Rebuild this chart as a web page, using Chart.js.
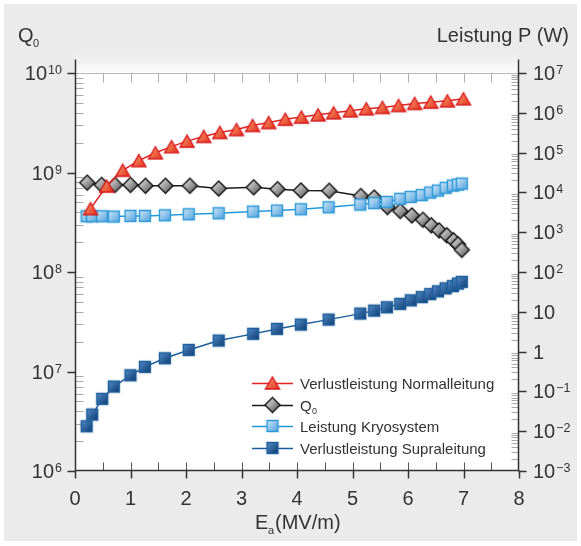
<!DOCTYPE html>
<html>
<head>
<meta charset="utf-8">
<script src="https://cdn.jsdelivr.net/npm/chart.js@4.4.1/dist/chart.umd.min.js"></script>
<style>
  html, body { margin: 0; padding: 0; background: #fff; }
  #wrap { width: 581px; height: 546px; }
</style>
</head>
<body>
<div id="wrap"><canvas id="chart" width="581" height="546"></canvas></div>
<script>
// E_a (MV/m) for the normal conducting curve
const eNormal = [0.28, 0.57, 0.86, 1.15, 1.45, 1.74, 2.02, 2.32, 2.61, 2.91, 3.20, 3.49,
                 3.79, 4.08, 4.38, 4.66, 4.96, 5.25, 5.54, 5.83, 6.12, 6.41, 6.71, 7.00];
// Verlustleistung Normalleitung (W)
const pNormal = [3.9e3, 1.44e4, 3.6e4, 6.3e4, 9.9e4, 1.41e5, 1.94e5, 2.55e5, 3.2e5, 3.8e5, 4.8e5, 5.7e5,
                 6.9e5, 7.8e5, 8.9e5, 1.0e6, 1.12e6, 1.26e6, 1.36e6, 1.53e6, 1.72e6, 1.85e6, 2.0e6, 2.25e6];

// E_a (MV/m) for the superconducting measurements
const eSupra = [0.21, 0.31, 0.49, 0.70, 1.00, 1.26, 1.62, 2.05, 2.59, 3.21, 3.64, 4.07, 4.57,
                5.14, 5.39, 5.62, 5.86, 6.05, 6.25, 6.40, 6.54, 6.68, 6.81, 6.90, 6.97];
// Leistung Kryosystem (W)
const pKryo = [2510, 2510, 2510, 2470, 2570, 2570, 2660, 2820, 2990, 3290, 3490, 3760, 4230,
               4940, 5380, 5770, 6900, 7710, 8550, 9890, 11100, 13000, 14800, 15700, 16600];
// Verlustleistung Supraleitung (W)
const pSupra = [0.0133, 0.0261, 0.0648, 0.132, 0.254, 0.413, 0.679, 1.10, 1.89, 2.79, 3.72, 4.77, 6.36,
                9.0, 10.7, 13.0, 15.8, 19.4, 23.4, 27.9, 32.7, 38.9, 44.2, 51.1, 56.4];

// Q0 curve
const eQ0 = [0.22, 0.48, 0.72, 1.00, 1.27, 1.63, 2.07, 2.59, 3.22, 3.65, 4.07, 4.58,
             5.15, 5.39, 5.63, 5.86, 6.07, 6.27, 6.42, 6.56, 6.70, 6.82, 6.90, 6.97];
const q0 = [7.9e8, 7.5e8, 7.5e8, 7.5e8, 7.35e8, 7.35e8, 7.35e8, 6.9e8, 7.1e8, 6.8e8, 6.6e8, 6.55e8,
            5.8e8, 5.6e8, 4.5e8, 4.1e8, 3.7e8, 3.35e8, 2.95e8, 2.62e8, 2.34e8, 2.08e8, 1.9e8, 1.67e8];

// tick labels
const q0TickExp = [6, 7, 8, 9, 10];
const pTickExp = [-3, -2, -1, 0, 1, 2, 3, 4, 5, 6, 7];
const xTicks = [0, 1, 2, 3, 4, 5, 6, 7, 8];

const FONT = '"Liberation Sans", Arial, sans-serif';
const TXT = '#333';

function makeMarker(shape, w, h, light, dark, stroke) {
  const c = document.createElement('canvas');
  c.width = w + 4; c.height = h + 4;
  const g = c.getContext('2d');
  const grad = g.createLinearGradient(2, 2, w + 2, h + 2);
  grad.addColorStop(0, light);
  grad.addColorStop(1, dark);
  g.beginPath();
  if (shape === 'triangle') {
    g.moveTo(c.width / 2, 2); g.lineTo(w + 2, h + 2); g.lineTo(2, h + 2);
  } else if (shape === 'diamond') {
    g.moveTo(c.width / 2, 2); g.lineTo(w + 2, c.height / 2); g.lineTo(c.width / 2, h + 2); g.lineTo(2, c.height / 2);
  } else {
    g.rect(2.5, 2.5, w - 1, h - 1);
  }
  g.closePath();
  g.fillStyle = grad; g.fill();
  g.lineWidth = 1.4; g.strokeStyle = stroke; g.stroke();
  return c;
}

const mkTri = makeMarker('triangle', 14, 12, '#f9a070', '#e4301c', '#d8181c');
const mkDia = makeMarker('diamond', 15, 15, '#f4f4f4', '#4a4a4a', '#111');
const mkLight = makeMarker('square', 12, 12, '#d4eafa', '#4a9ddc', '#2c9ad8');
const mkDark = makeMarker('square', 12, 12, '#5590cc', '#0a376e', '#1f5f9c');

function pts(xs, ys) { return xs.map((x, i) => ({ x: x, y: ys[i] })); }

function hline(c, x1, y1, x2, y2, col, w) {
  c.beginPath(); c.moveTo(x1, y1); c.lineTo(x2, y2);
  c.strokeStyle = col; c.lineWidth = w || 1; c.stroke();
}

// "10^exp" label; 10^1 is written "10" and 10^0 is written "1"
function powLabel(c, exp, x, y, align) {
  const base = exp === 0 ? '1' : '10';
  const sup = (exp === 0 || exp === 1) ? '' : (exp < 0 ? '\u2212' + (-exp) : String(exp));
  c.font = '20px ' + FONT; const wb = c.measureText(base).width;
  c.font = '12.5px ' + FONT; const ws = sup ? c.measureText(sup).width + 1 : 0;
  const x0 = align === 'right' ? x - wb - ws : x;
  c.textAlign = 'left'; c.textBaseline = 'alphabetic';
  c.font = '20px ' + FONT; c.fillText(base, x0, y + 7);
  if (sup) { c.font = '12.5px ' + FONT; c.fillText(sup, x0 + wb + 1, y + 1); }
}

const datasets = [
  { label: 'Verlustleistung Normalleitung', data: pts(eNormal, pNormal), yAxisID: 'y1',
    borderColor: '#e2231f', pointStyle: mkTri, order: 0 },
  { label: 'Q0', data: pts(eQ0, q0), yAxisID: 'y',
    borderColor: '#1a1a1a', pointStyle: mkDia, order: 2 },
  { label: 'Leistung Kryosystem', data: pts(eSupra, pKryo), yAxisID: 'y1',
    borderColor: '#239ad8', pointStyle: mkLight, order: 1 },
  { label: 'Verlustleistung Supraleitung', data: pts(eSupra, pSupra), yAxisID: 'y1',
    borderColor: '#1b5d9b', pointStyle: mkDark, order: 3 }
];
datasets.forEach(d => {
  d.borderWidth = 1.5; d.pointRadius = 6; d.fill = false; d.tension = 0;
});

const frame = {
  id: 'frame',
  beforeDraw(chart) {
    const c = chart.ctx, a = chart.chartArea;
    c.save();
    c.fillStyle = '#fff'; c.fillRect(0, 0, chart.width, chart.height);
    c.fillStyle = '#ebebeb'; c.fillRect(4, 4, 573, 537);
    const g = c.createLinearGradient(0, a.top - 20, 0, a.top);
    g.addColorStop(0, '#ebebeb'); g.addColorStop(1, '#fdfdfd');
    c.fillStyle = g; c.fillRect(a.left, a.top - 20, a.right - a.left, 20);
    c.fillStyle = '#fff'; c.fillRect(a.left, a.top, a.right - a.left, a.bottom - a.top);
    c.restore();
  },
  beforeDatasetsDraw(chart) {
    const c = chart.ctx, a = chart.chartArea;
    const sx = chart.scales.x, sy = chart.scales.y, sp = chart.scales.y1;
    const L = Math.round(a.left) + 0.5, R = Math.round(a.right) - 0.5;
    const T = Math.round(a.top) + 0.5, B = Math.round(a.bottom) - 0.5;
    c.save();
    hline(c, L, T, R, T, '#b8b8b8');
    // left axis (Q0)
    for (let e = 6; e < 10; e++) {
      for (let m = 2; m <= 9; m++) {
        const y = Math.round(sy.getPixelForValue(m * Math.pow(10, e))) + 0.5;
        hline(c, L, y, L + 8, y, '#a8a8a8');
      }
    }
    q0TickExp.forEach(e => {
      const y = Math.round(sy.getPixelForValue(Math.pow(10, e))) + 0.5;
      hline(c, L - 8, y, L, y, '#333', 1.5);
    });
    // right axis (P)
    for (let e = -3; e < 7; e++) {
      for (let m = 2; m <= 9; m++) {
        const y = Math.round(sp.getPixelForValue(m * Math.pow(10, e))) + 0.5;
        hline(c, R - 7, y, R, y, '#a8a8a8');
      }
    }
    pTickExp.forEach(e => {
      const y = Math.round(sp.getPixelForValue(Math.pow(10, e))) + 0.5;
      hline(c, R, y, R + 8, y, '#333', 1.5);
    });
    // x axis
    for (let v = 0.5; v < 8; v += 0.5) {
      const x = Math.round(sx.getPixelForValue(v)) + 0.5;
      hline(c, x, T, x, T + 9, '#b0b0b0');
      hline(c, x, B - 8, x, B, '#555');
    }
    xTicks.forEach(v => {
      const x = Math.round(sx.getPixelForValue(v)) + 0.5;
      hline(c, x, B, x, B + 8, '#333', 1.5);
    });
    // axis lines
    hline(c, L, T - 14, L, B + 0.5, '#333', 1.5);
    hline(c, R, T - 14, R, B + 0.5, '#333', 1.5);
    hline(c, L, B, R, B, '#333', 1.5);
    c.restore();
  },
  afterDraw(chart) {
    const c = chart.ctx, a = chart.chartArea;
    const sx = chart.scales.x, sy = chart.scales.y, sp = chart.scales.y1;
    c.save();
    c.fillStyle = TXT;
    q0TickExp.forEach(e => powLabel(c, e, a.left - 13, sy.getPixelForValue(Math.pow(10, e)), 'right'));
    pTickExp.forEach(e => powLabel(c, e, a.right + 14, sp.getPixelForValue(Math.pow(10, e)), 'left'));
    c.font = '20px ' + FONT; c.textAlign = 'center'; c.textBaseline = 'alphabetic';
    xTicks.forEach(v => c.fillText(String(v), sx.getPixelForValue(v), a.bottom + 34));

    // axis titles
    c.textAlign = 'left';
    c.font = '20px ' + FONT; c.fillText('Q', 18, 42);
    c.font = '11px ' + FONT; c.fillText('0', 33, 47);
    c.font = '20px ' + FONT; c.textAlign = 'right'; c.fillText('Leistung P (W)', 569, 42);
    c.textAlign = 'left';
    c.fillText('E', 255, 529);
    c.font = '11px ' + FONT; c.fillText('a', 268, 534);
    c.font = '20px ' + FONT; c.fillText('(MV/m)', 275, 529);

    // legend
    const rows = [[0, 383], [1, 405], [2, 426], [3, 448]];
    rows.forEach(([i, y]) => {
      const d = chart.data.datasets[i];
      hline(c, 252, y + 0.5, 293, y + 0.5, d.borderColor, 1.5);
      const img = d.pointStyle;
      c.drawImage(img, 272.5 - img.width / 2, y - img.height / 2);
      c.fillStyle = TXT; c.textAlign = 'left';
      if (i === 1) {
        c.font = '15px ' + FONT; c.fillText('Q', 300, y + 5.5);
        c.font = '9px ' + FONT; c.fillText('0', 312, y + 9);
      } else {
        c.font = '15px ' + FONT; c.fillText(d.label, 300, y + 5.5);
      }
    });
    c.restore();
  }
};

new Chart(document.getElementById('chart'), {
  type: 'line',
  data: { datasets: datasets },
  options: {
    responsive: false,
    animation: false,
    devicePixelRatio: 1,
    layout: { padding: { top: 73, left: 0, right: 0, bottom: 0 } },
    plugins: { legend: { display: false }, tooltip: { enabled: false } },
    scales: {
      x: { type: 'linear', min: 0, max: 8,
           grid: { display: false, drawTicks: false }, border: { display: false },
           ticks: { display: false, stepSize: 1 },
           afterFit: s => { s.height = 75; } },
      y: { type: 'logarithmic', position: 'left', min: 1e6, max: 1e10,
           grid: { display: false, drawTicks: false }, border: { display: false },
           ticks: { display: false },
           afterFit: s => { s.width = 75; } },
      y1: { type: 'logarithmic', position: 'right', min: 1e-3, max: 1e7,
            grid: { display: false, drawTicks: false }, border: { display: false },
            ticks: { display: false },
            afterFit: s => { s.width = 62; } }
    }
  },
  plugins: [frame]
});
</script>
</body>
</html>
